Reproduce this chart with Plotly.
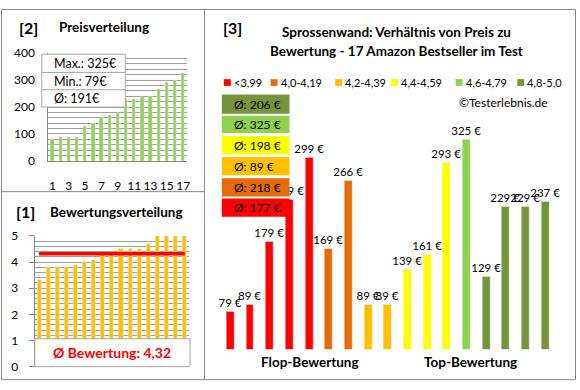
import plotly.graph_objects as go

W, H = 580, 390
def fx(p): return p / W
def fy(p): return 1 - p / H

FONT = "Lato"

# ---- data ----
price_rank = list(range(1, 18))
prices_sorted = [79, 89, 89, 89, 129, 139, 161, 169, 179, 229, 229, 237, 239, 266, 293, 299, 325]
ratings_sorted = [3.3, 3.8, 3.8, 3.8, 3.9, 4.0, 4.1, 4.3, 4.3, 4.5, 4.5, 4.5, 4.7, 5.0, 5.0, 5.0, 5.0]
avg_rating = 4.32
price_max, price_min, price_avg = 325, 79, 191

product_ratings = [3.3, 3.8, 3.8, 3.8, 3.9, 4.0, 4.1, 4.3, 4.3, 4.5, 4.5, 4.5, 4.7, 5.0, 5.0, 5.0, 5.0]
product_prices = [79, 89, 179, 239, 299, 169, 266, 89, 89, 139, 161, 293, 325, 129, 229, 229, 237]

group_labels = ["<3,99", "4,0-4,19", "4,2-4,39", "4,4-4,59", "4,6-4,79", "4,8-5,0"]
group_lower = [0, 4.0, 4.2, 4.4, 4.6, 4.8]
group_colors = ["#FF0000", "#E46C0A", "#FFC000", "#FFFF00", "#92D050", "#77933C"]
group_avgs = [177, 218, 89, 198, 325, 206]

def group_of(r):
    g = 0
    for i, lo in enumerate(group_lower):
        if r >= lo:
            g = i
    return g

bar_colors = [group_colors[group_of(r)] for r in product_ratings]

GRID = "#A0A0A0"
BORDER = "#868686"

fig = go.Figure()

# [2] price distribution
fig.add_trace(go.Bar(x=price_rank, y=prices_sorted, marker_color="#92D050", width=0.4,
                     xaxis="x", yaxis="y", showlegend=False, hoverinfo="skip"))
# [1] rating distribution
fig.add_trace(go.Bar(x=price_rank, y=ratings_sorted, marker_color="#FFC000", width=0.45,
                     xaxis="x2", yaxis="y2", showlegend=False, hoverinfo="skip"))
fig.add_trace(go.Scatter(x=price_rank, y=[avg_rating] * len(price_rank), mode="lines",
                         line=dict(color="#FF0000", width=3.5),
                         xaxis="x2", yaxis="y2", showlegend=False, hoverinfo="skip"))
# [3] main chart
fig.add_trace(go.Bar(x=price_rank, y=product_prices, marker_color=bar_colors, width=0.4,
                     text=[f"{p} €" for p in product_prices], textposition="outside",
                     textfont=dict(family=FONT, size=11.5, color="#000000"),
                     constraintext="none", cliponaxis=False,
                     xaxis="x3", yaxis="y3", showlegend=False, hoverinfo="skip"))

axfont = dict(family=FONT, size=12, color="#000000")

layout = dict(
    width=W, height=H, margin=dict(l=0, r=0, t=0, b=0),
    paper_bgcolor="white", plot_bgcolor="rgba(0,0,0,0)",
    showlegend=False, bargap=0,
    xaxis=dict(domain=[fx(48.6), fx(188.2)], range=[0.5, 17.5], tickvals=list(range(1, 18, 2)),
               tickfont=axfont, showgrid=False, showline=True, linecolor=BORDER,
               ticks="", ticklabelstandoff=14, anchor="y", zeroline=False),
    yaxis=dict(domain=[fy(159), fy(47)], range=[0, 400], dtick=100, tickfont=axfont,
               showgrid=True, gridcolor=GRID, gridwidth=1,
               minor=dict(dtick=20, showgrid=True, gridcolor=GRID, gridwidth=1),
               showline=True, linecolor=BORDER, ticklabelstandoff=10, anchor="x", zeroline=False),
    xaxis2=dict(domain=[fx(34.7), fx(190.3)], range=[0.5, 17.5], showticklabels=False,
                showgrid=False, showline=False, anchor="y2", zeroline=False),
    yaxis2=dict(domain=[fy(373), fy(237)], range=[0, 5], dtick=1, tickfont=axfont,
                showgrid=True, gridcolor=GRID,
                minor=dict(dtick=0.2, showgrid=True, gridcolor=GRID),
                showline=True, linecolor=BORDER, ticks="outside", ticklen=5, tickcolor=BORDER,
                ticklabelstandoff=8, anchor="x2", zeroline=False),
    xaxis3=dict(domain=[fx(221.6), fx(557.9)], range=[0.5, 17.5], visible=False, anchor="y3"),
    yaxis3=dict(domain=[fy(355), fy(110)], range=[25.4, 362.4], visible=False, anchor="x3"),
)

shapes = []
def rect(x0, y0, x1, y1, fill="rgba(0,0,0,0)", line=None, lw=1):
    shapes.append(dict(type="rect", xref="paper", yref="paper", x0=fx(x0), x1=fx(x1),
                       y0=fy(y1), y1=fy(y0), fillcolor=fill,
                       line=dict(color=line if line else "rgba(0,0,0,0)", width=lw if line else 0),
                       layer="above"))
def hline(x0, x1, y, color=BORDER):
    shapes.append(dict(type="line", xref="paper", yref="paper", x0=fx(x0), x1=fx(x1),
                       y0=fy(y), y1=fy(y), line=dict(color=color, width=1), layer="above"))
def vline(x, y0, y1, color=BORDER):
    shapes.append(dict(type="line", xref="paper", yref="paper", x0=fx(x), x1=fx(x),
                       y0=fy(y0), y1=fy(y1), line=dict(color=color, width=1), layer="above"))

# panel borders
rect(1.5, 1.5, 578.5, 386.5, line=BORDER)
vline(205.5, 1.5, 386.5)
hline(1.5, 205.5, 191)

# price info table
rect(42, 48, 126, 103, fill="white", line="#A6A6A6")
hline(42, 126, 67, "#A6A6A6")
hline(42, 126, 85, "#A6A6A6")

# rating box
rect(35, 344, 191, 373, fill="white", line="#A6A6A6")

# average boxes (top to bottom: best to worst)
box_tops = [90, 112, 133, 155, 177, 198]
box_bottoms = [110, 130, 152, 174, 196, 217]
order = [5, 4, 3, 2, 1, 0]
annotations = []
for k, g in enumerate(order):
    rect(223, box_tops[k], 291, box_bottoms[k], fill=group_colors[g])
    annotations.append(dict(xref="paper", yref="paper", x=fx(233), y=fy((box_tops[k] + box_bottoms[k]) / 2),
                            xanchor="left", yanchor="middle", showarrow=False,
                            text=f"Ø: {group_avgs[g]} €", font=dict(family=FONT, size=12, color="#000000")))

# legend
leg_x = [225, 272, 337, 393, 458, 520]
for i in range(6):
    rect(leg_x[i], 74, leg_x[i] + 7, 81, fill=group_colors[i])
    annotations.append(dict(xref="paper", yref="paper", x=fx(leg_x[i] + 8), y=fy(77.5),
                            xanchor="left", yanchor="middle", showarrow=False,
                            text=group_labels[i].replace("<", "&lt;"),
                            font=dict(family=FONT, size=11, color="#000000")))

def txt(x, y, s, size=12, bold=False, color="#000000", anchor="center"):
    annotations.append(dict(xref="paper", yref="paper", x=fx(x), y=fy(y), xanchor=anchor,
                            yanchor="middle", showarrow=False,
                            text=f"<b>{s}</b>" if bold else s,
                            font=dict(family=FONT, size=size, color=color)))

txt(17, 20, "[2]", size=16, bold=True, anchor="left")
txt(57, 20, "Preisverteilung", size=13.5, bold=True, anchor="left")
txt(14, 212, "[1]", size=16, bold=True, anchor="left")
txt(48, 212, "Bewertungsverteilung", size=13.5, bold=True, anchor="left")
txt(222, 20, "[3]", size=16, bold=True, anchor="left")
txt(399, 25, "Sprossenwand: Verhältnis von Preis zu", size=13.5, bold=True)
txt(399, 45, "Bewertung - 17 Amazon Bestseller im Test", size=13.5, bold=True)
txt(553, 98, "©Testerlebnis.de", size=12, anchor="right")
txt(312, 368, "Flop-Bewertung", size=13.5, bold=True)
txt(473, 368, "Top-Bewertung", size=13.5, bold=True)
txt(52, 58, f"Max.: {price_max}€", size=12.5, anchor="left")
txt(52, 76, f"Min.: {price_min}€", size=12.5, anchor="left")
txt(52, 94, f"Ø: {price_avg}€", size=12.5, anchor="left")
txt(113, 358, "Ø Bewertung: " + f"{avg_rating:.2f}".replace(".", ","), size=14, bold=True, color="#FF0000")

layout["shapes"] = shapes
layout["annotations"] = annotations
fig.update_layout(**layout)
fig.write_html("out.html", config={"displayModeBar": False},
               post_script="document.body.style.margin='0';document.body.style.overflow='hidden';")
